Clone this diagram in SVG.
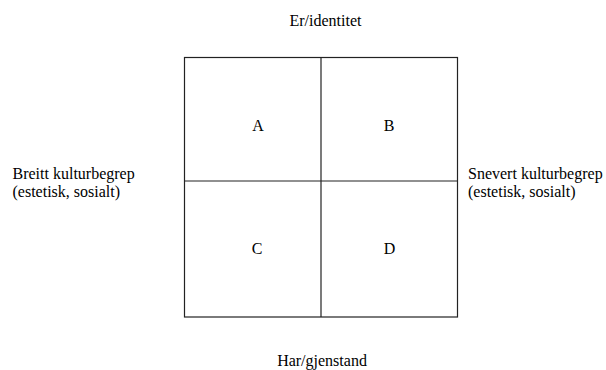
<svg xmlns="http://www.w3.org/2000/svg" width="606" height="370" viewBox="0 0 606 370">
<style>
text{font-family:"Liberation Serif","Times New Roman",serif;font-size:16px;fill:#000}
.c{text-anchor:middle}
.ln{stroke:#222;stroke-width:1.2;fill:none}
</style>
<rect width="606" height="370" fill="#fff"/>
<g id="grid">
<rect class="ln" x="184.5" y="57.5" width="273" height="259.5"/>
<line class="ln" x1="321" y1="57.5" x2="321" y2="317"/>
<line class="ln" x1="184.5" y1="181" x2="457.5" y2="181"/>
</g>
<g id="connectors"></g>
<g id="cellA"><text class="c" x="258" y="131">A</text></g>
<g id="cellB"><text class="c" x="389" y="131">B</text></g>
<g id="cellC"><text class="c" x="257" y="254">C</text></g>
<g id="cellD"><text class="c" x="389.5" y="254">D</text></g>
<g id="top"><text class="c" x="325.5" y="26">Er/identitet</text></g>
<g id="bottom"><text class="c" x="322" y="366">Har/gjenstand</text></g>
<g id="left"><text x="12.5" y="179">Breitt kulturbegrep</text><text x="12.5" y="196.5">(estetisk, sosialt)</text></g>
<g id="right"><text x="468" y="179">Snevert kulturbegrep</text><text x="468" y="196.5">(estetisk, sosialt)</text></g>
</svg>
